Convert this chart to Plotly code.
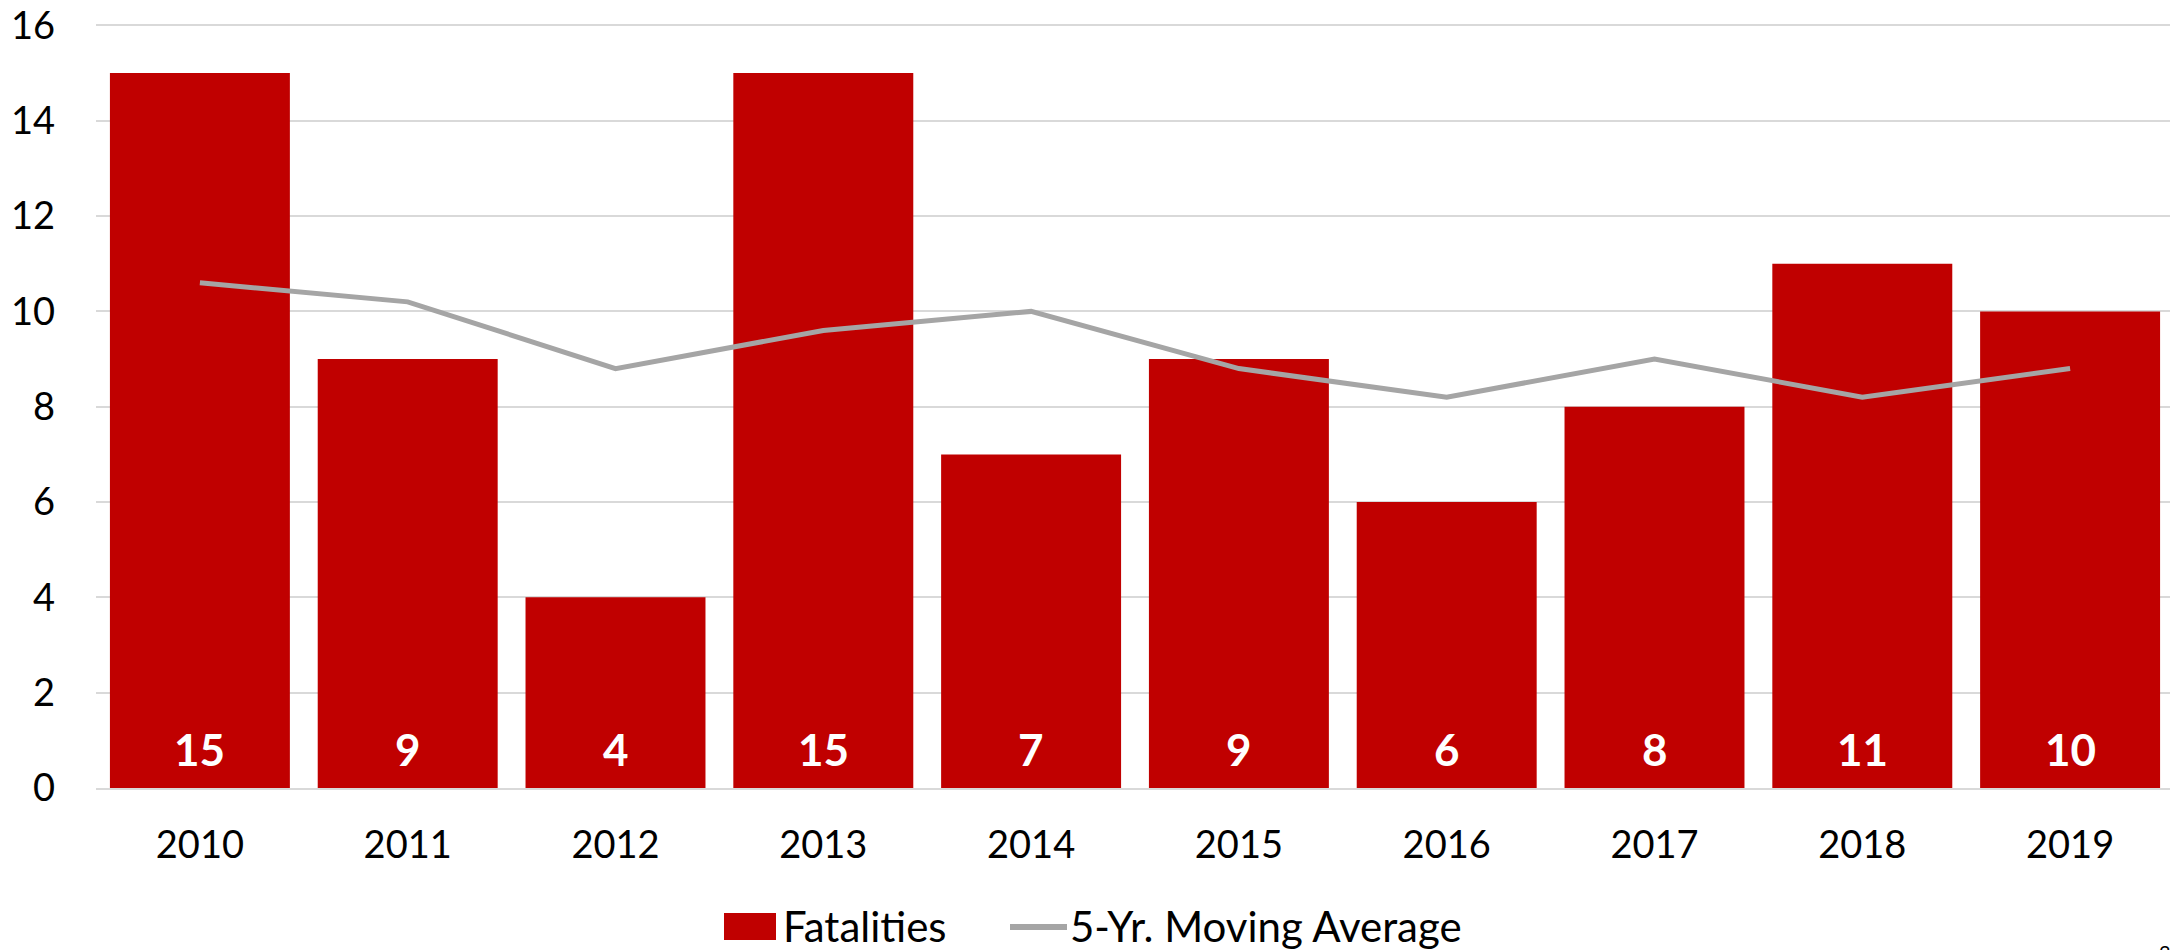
import plotly.graph_objects as go

years = ["2010", "2011", "2012", "2013", "2014", "2015", "2016", "2017", "2018", "2019"]
fatalities = [15, 9, 4, 15, 7, 9, 6, 8, 11, 10]
moving_avg = [10.6, 10.2, 8.8, 9.6, 10.0, 8.8, 8.2, 9.0, 8.2, 8.8]
y_ticks = [0, 2, 4, 6, 8, 10, 12, 14, 16]

# The page body has an 8px default margin, so the figure is sized to fill
# the 2178x950 window from that offset.
OFF = 8
W, H = 2178 - OFF, 950 - OFF
L, R, T, B = 96 - OFF, 4, 24 - OFF, 162
pw, ph = W - L - R, H - T - B

def px_x(p):
    return (p - OFF - L) / pw

def px_y(p):
    return (H - B - (p - OFF)) / ph

FONT = "Lato, 'Open Sans', sans-serif"
RED = "#C00000"
GREY = "#A5A5A5"

fig = go.Figure()
fig.add_trace(go.Bar(
    x=years, y=fatalities, name="Fatalities",
    marker=dict(color=RED, line=dict(width=0)),
))
fig.add_trace(go.Scatter(
    x=years, y=moving_avg, name="5-Yr. Moving Average",
    mode="lines", line=dict(color=GREY, width=5),
))

# value labels near the base of each bar (category index positions)
annotations = [
    dict(text=str(v), x=i, y=0, xref="x", yref="y",
         xanchor="center", yanchor="middle", yshift=39, showarrow=False,
         font=dict(family=FONT, size=44, color="white", weight="bold"))
    for i, v in enumerate(fatalities)
]

shapes = [
    dict(type="rect", xref="paper", yref="paper",
         x0=px_x(724), x1=px_x(776), y0=px_y(940), y1=px_y(913),
         fillcolor=RED, line=dict(width=0)),
    dict(type="line", xref="paper", yref="paper",
         x0=px_x(1010), x1=px_x(1067), y0=px_y(927), y1=px_y(927),
         line=dict(color=GREY, width=6)),
]
annotations += [
    dict(text="Fatalities", xref="paper", yref="paper", x=px_x(781), y=px_y(926),
         xanchor="left", yanchor="middle", showarrow=False,
         font=dict(family=FONT, size=42, color="black")),
    dict(text="5-Yr. Moving Average", xref="paper", yref="paper", x=px_x(1068), y=px_y(926),
         xanchor="left", yanchor="middle", showarrow=False,
         font=dict(family=FONT, size=42, color="black")),
    dict(text="3", xref="paper", yref="paper", x=px_x(2165), y=px_y(938),
         xanchor="center", yanchor="top", showarrow=False,
         font=dict(family=FONT, size=20, color="black")),
]

fig.update_layout(
    width=W, height=H,
    margin=dict(l=L, r=R, t=T, b=B, pad=0, autoexpand=False),
    paper_bgcolor="white", plot_bgcolor="white",
    showlegend=False,
    bargap=0.134,
    font=dict(family=FONT, size=38, color="black"),
    shapes=shapes, annotations=annotations,
    xaxis=dict(
        type="category", categoryorder="array", categoryarray=years,
        range=[-0.5, len(years) - 0.5], automargin=False,
        showgrid=False, zeroline=False,
        showline=True, linecolor="#D9D9D9", linewidth=2,
        ticks="", ticklabelstandoff=22,
        tickfont=dict(family=FONT, size=38, color="black"),
    ),
    yaxis=dict(
        range=[0, 16.03], tickvals=y_ticks, ticktext=[str(v) for v in y_ticks],
        automargin=False,
        showgrid=True, gridcolor="#D9D9D9", gridwidth=2,
        zeroline=False, showline=False,
        ticks="", ticklabelstandoff=40, ticklabeloverflow="allow",
        tickfont=dict(family=FONT, size=38, color="black"),
    ),
)

fig.write_html("out.html")
